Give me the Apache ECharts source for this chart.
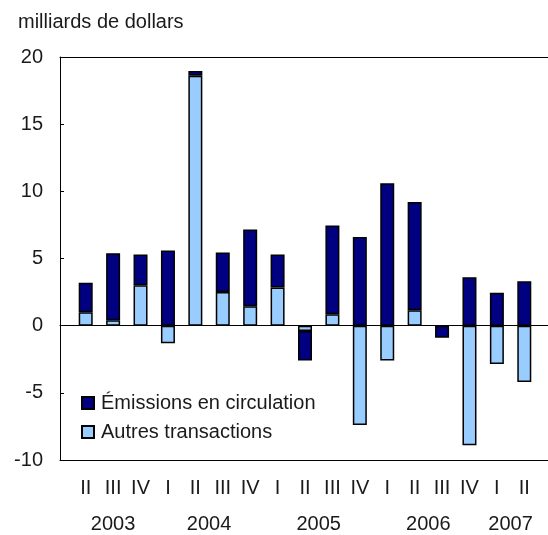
<!DOCTYPE html>
<html>
<head>
<meta charset="utf-8">
<script src="https://cdn.jsdelivr.net/npm/echarts@6/dist/echarts.min.js"></script>
<style>
  html, body { margin: 0; padding: 0; background: #fff; }
  #chart { width: 548px; height: 535px; }
</style>
</head>
<body>
<div id="chart"></div>
<script>
// trimestres, 2003 II a 2007 II
const quarters = ['II', 'III', 'IV', 'I', 'II', 'III', 'IV', 'I', 'II', 'III', 'IV', 'I', 'II', 'III', 'IV', 'I', 'II']
const years = ['2003', '2004', '2005', '2006', '2007']
const emissions = [2.2, 5.0, 2.3, 5.6, 0.35, 2.95, 5.7, 2.45, -2.2, 6.6, 6.6, 10.6, 8.05, -0.9, 3.6, 2.45, 3.3]
const autres = [1.0, 0.4, 3.0, -1.3, 18.6, 2.5, 1.45, 2.85, -0.4, 0.85, -7.4, -2.6, 1.15, 0, -8.9, -2.85, -4.2]
const yTicks = [-10, -5, 0, 5, 10, 15, 20]

const FONT = '"Liberation Sans", Arial, sans-serif'
const TXT = '#1a1a1a'

// position (in category units) of the centre of each year's group of quarters
const yearPos = {}
let start = 0, y = 0
quarters.forEach((q, i) => {
  if (q === 'I' && i > 0) {
    yearPos[start + i] = years[y]   // key = 2 * centre
    start = i
    y++
  }
})
yearPos[start + quarters.length] = years[y]

const chart = echarts.init(document.getElementById('chart'))

const frame = { left: 60, right: 0, top: 57, bottom: 75, outerBoundsMode: 'none' }
const yRange = { type: 'value', min: yTicks[0], max: yTicks[yTicks.length - 1], interval: 5 }
const blackLine = { color: '#000', width: 1 }

chart.setOption({
  animation: false,
  title: {
    text: 'milliards de dollars',
    left: 13, top: 7,
    textStyle: { fontFamily: FONT, fontSize: 20, fontWeight: 'normal', color: TXT }
  },
  legend: {
    orient: 'vertical',
    left: 76, top: 388,
    itemWidth: 12, itemHeight: 12, itemGap: 9,
    icon: 'rect',
    data: ['Émissions en circulation', 'Autres transactions'],
    textStyle: { fontFamily: FONT, fontSize: 20, color: TXT, lineHeight: 20, padding: [0, 0, 0, 2] }
  },
  grid: [
    frame,
    { left: 72, right: 10, top: 57, bottom: 75, outerBoundsMode: 'none' },
    frame
  ],
  xAxis: [
    { gridIndex: 0, type: 'value', min: 0, max: 1, position: 'bottom',
      axisLine: { onZero: false, lineStyle: blackLine }, axisTick: { show: false },
      axisLabel: { show: false }, splitLine: { show: false } },
    { gridIndex: 0, type: 'value', min: 0, max: 1, position: 'top',
      axisLine: { onZero: false, lineStyle: blackLine }, axisTick: { show: false },
      axisLabel: { show: false }, splitLine: { show: false } },
    { gridIndex: 1, type: 'category', data: quarters, position: 'bottom',
      axisLine: { onZero: false, lineStyle: blackLine },
      axisTick: { inside: true, length: 4, alignWithLabel: true, lineStyle: blackLine },
      axisLabel: { interval: 0, margin: 18, fontFamily: FONT, fontSize: 20, color: TXT } },
    { gridIndex: 1, type: 'value', min: 0, max: quarters.length, interval: 0.5, position: 'bottom',
      axisLine: { show: false, onZero: false }, axisTick: { show: false }, splitLine: { show: false },
      axisLabel: {
        margin: 54, fontFamily: FONT, fontSize: 20, color: TXT,
        formatter: v => yearPos[Math.round(v * 2)] || ''
      } },
    { gridIndex: 2, type: 'value', min: 0, max: 1,
      axisLine: { onZero: true, lineStyle: blackLine }, axisTick: { show: false },
      axisLabel: { show: false }, splitLine: { show: false } }
  ],
  yAxis: [
    Object.assign({ gridIndex: 0 }, yRange, {
      axisLine: { show: true, lineStyle: blackLine },
      axisTick: { show: true, inside: true, length: 4, lineStyle: blackLine },
      axisLabel: { margin: 17, fontFamily: FONT, fontSize: 20, color: TXT },
      splitLine: { show: false }
    }),
    Object.assign({ gridIndex: 1, show: false }, yRange, { splitLine: { show: false } }),
    Object.assign({ gridIndex: 2, show: false }, yRange, { splitLine: { show: false } })
  ],
  series: [
    {
      name: 'Autres transactions',
      type: 'bar',
      stack: 'total',
      xAxisIndex: 2, yAxisIndex: 1,
      barWidth: 14,
      data: autres,
      itemStyle: { color: '#99ccff', borderColor: '#000', borderWidth: 1.5 }
    },
    {
      name: 'Émissions en circulation',
      type: 'bar',
      stack: 'total',
      xAxisIndex: 2, yAxisIndex: 1,
      barWidth: 14,
      data: emissions,
      itemStyle: { color: '#000080', borderColor: '#000', borderWidth: 1.5 }
    }
  ]
})
</script>
</body>
</html>
